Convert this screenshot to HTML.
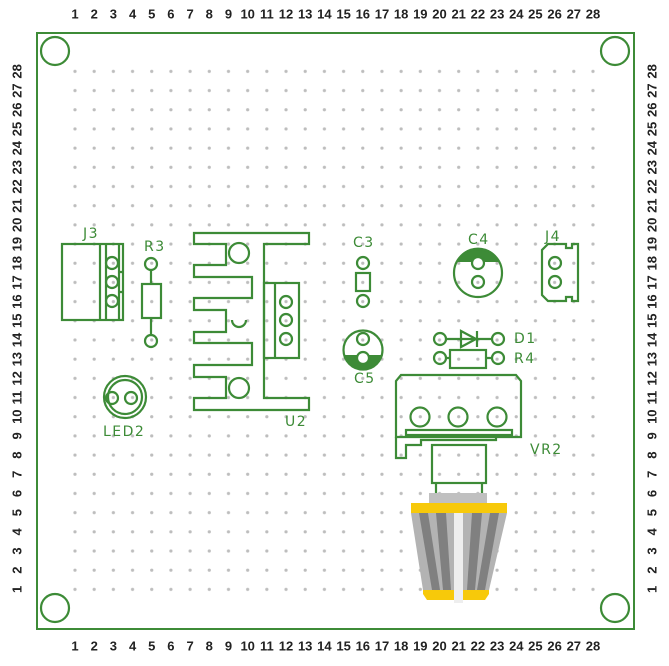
<!DOCTYPE html>
<html><head><meta charset="utf-8"><style>
html,body{margin:0;padding:0;background:#fff;width:669px;height:666px;overflow:hidden}
svg{display:block}
.n{font-family:"Liberation Sans",sans-serif;font-weight:bold;font-size:13px;fill:#222;text-anchor:middle;dominant-baseline:central}
.g{fill:none;stroke:#3d8b37;stroke-width:2.2}
.l{font-family:"DejaVu Sans","Liberation Sans",sans-serif;font-size:14px;fill:#3d8b37;letter-spacing:1.5px}
</style></head><body>
<svg width="669" height="666" viewBox="0 0 669 666" xmlns="http://www.w3.org/2000/svg">
<defs>
<pattern id="d" patternUnits="userSpaceOnUse" x="65.4" y="61.8" width="19.185" height="19.185">
<circle cx="9.59" cy="9.59" r="1.6" fill="#bdbdbd"/></pattern>
</defs>
<rect x="37" y="33" width="597" height="596" fill="#fff" stroke="#3d8b37" stroke-width="2"/>
<rect x="65" y="61" width="540" height="540" fill="url(#d)"/>
<circle class="g" cx="55" cy="51" r="14"/><circle class="g" cx="615" cy="51" r="14"/>
<circle class="g" cx="55" cy="608" r="14"/><circle class="g" cx="615" cy="608" r="14"/>

<g id="top">
<text class="n" x="75" y="14">1</text><text class="n" x="94.2" y="14">2</text><text class="n" x="113.4" y="14">3</text><text class="n" x="132.6" y="14">4</text><text class="n" x="151.7" y="14">5</text><text class="n" x="170.9" y="14">6</text><text class="n" x="190.1" y="14">7</text><text class="n" x="209.3" y="14">8</text><text class="n" x="228.5" y="14">9</text><text class="n" x="247.7" y="14">10</text><text class="n" x="266.9" y="14">11</text><text class="n" x="286" y="14">12</text><text class="n" x="305.2" y="14">13</text><text class="n" x="324.4" y="14">14</text><text class="n" x="343.6" y="14">15</text><text class="n" x="362.8" y="14">16</text><text class="n" x="382" y="14">17</text><text class="n" x="401.1" y="14">18</text><text class="n" x="420.3" y="14">19</text><text class="n" x="439.5" y="14">20</text><text class="n" x="458.7" y="14">21</text><text class="n" x="477.9" y="14">22</text><text class="n" x="497.1" y="14">23</text><text class="n" x="516.3" y="14">24</text><text class="n" x="535.4" y="14">25</text><text class="n" x="554.6" y="14">26</text><text class="n" x="573.8" y="14">27</text><text class="n" x="593" y="14">28</text>
</g>
<g transform="translate(0,632)">
<text class="n" x="75" y="14">1</text><text class="n" x="94.2" y="14">2</text><text class="n" x="113.4" y="14">3</text><text class="n" x="132.6" y="14">4</text><text class="n" x="151.7" y="14">5</text><text class="n" x="170.9" y="14">6</text><text class="n" x="190.1" y="14">7</text><text class="n" x="209.3" y="14">8</text><text class="n" x="228.5" y="14">9</text><text class="n" x="247.7" y="14">10</text><text class="n" x="266.9" y="14">11</text><text class="n" x="286" y="14">12</text><text class="n" x="305.2" y="14">13</text><text class="n" x="324.4" y="14">14</text><text class="n" x="343.6" y="14">15</text><text class="n" x="362.8" y="14">16</text><text class="n" x="382" y="14">17</text><text class="n" x="401.1" y="14">18</text><text class="n" x="420.3" y="14">19</text><text class="n" x="439.5" y="14">20</text><text class="n" x="458.7" y="14">21</text><text class="n" x="477.9" y="14">22</text><text class="n" x="497.1" y="14">23</text><text class="n" x="516.3" y="14">24</text><text class="n" x="535.4" y="14">25</text><text class="n" x="554.6" y="14">26</text><text class="n" x="573.8" y="14">27</text><text class="n" x="593" y="14">28</text>
</g>
<g id="side">
<text class="n" transform="translate(17,589.4) rotate(-90)">1</text><text class="n" transform="translate(17,570.2) rotate(-90)">2</text><text class="n" transform="translate(17,551) rotate(-90)">3</text><text class="n" transform="translate(17,531.9) rotate(-90)">4</text><text class="n" transform="translate(17,512.7) rotate(-90)">5</text><text class="n" transform="translate(17,493.5) rotate(-90)">6</text><text class="n" transform="translate(17,474.3) rotate(-90)">7</text><text class="n" transform="translate(17,455.1) rotate(-90)">8</text><text class="n" transform="translate(17,435.9) rotate(-90)">9</text><text class="n" transform="translate(17,416.7) rotate(-90)">10</text><text class="n" transform="translate(17,397.6) rotate(-90)">11</text><text class="n" transform="translate(17,378.4) rotate(-90)">12</text><text class="n" transform="translate(17,359.2) rotate(-90)">13</text><text class="n" transform="translate(17,340) rotate(-90)">14</text><text class="n" transform="translate(17,320.8) rotate(-90)">15</text><text class="n" transform="translate(17,301.6) rotate(-90)">16</text><text class="n" transform="translate(17,282.5) rotate(-90)">17</text><text class="n" transform="translate(17,263.3) rotate(-90)">18</text><text class="n" transform="translate(17,244.1) rotate(-90)">19</text><text class="n" transform="translate(17,224.9) rotate(-90)">20</text><text class="n" transform="translate(17,205.7) rotate(-90)">21</text><text class="n" transform="translate(17,186.5) rotate(-90)">22</text><text class="n" transform="translate(17,167.3) rotate(-90)">23</text><text class="n" transform="translate(17,148.2) rotate(-90)">24</text><text class="n" transform="translate(17,129) rotate(-90)">25</text><text class="n" transform="translate(17,109.8) rotate(-90)">26</text><text class="n" transform="translate(17,90.6) rotate(-90)">27</text><text class="n" transform="translate(17,71.4) rotate(-90)">28</text>
</g>
<g transform="translate(635,0)">
<text class="n" transform="translate(17,589.4) rotate(-90)">1</text><text class="n" transform="translate(17,570.2) rotate(-90)">2</text><text class="n" transform="translate(17,551) rotate(-90)">3</text><text class="n" transform="translate(17,531.9) rotate(-90)">4</text><text class="n" transform="translate(17,512.7) rotate(-90)">5</text><text class="n" transform="translate(17,493.5) rotate(-90)">6</text><text class="n" transform="translate(17,474.3) rotate(-90)">7</text><text class="n" transform="translate(17,455.1) rotate(-90)">8</text><text class="n" transform="translate(17,435.9) rotate(-90)">9</text><text class="n" transform="translate(17,416.7) rotate(-90)">10</text><text class="n" transform="translate(17,397.6) rotate(-90)">11</text><text class="n" transform="translate(17,378.4) rotate(-90)">12</text><text class="n" transform="translate(17,359.2) rotate(-90)">13</text><text class="n" transform="translate(17,340) rotate(-90)">14</text><text class="n" transform="translate(17,320.8) rotate(-90)">15</text><text class="n" transform="translate(17,301.6) rotate(-90)">16</text><text class="n" transform="translate(17,282.5) rotate(-90)">17</text><text class="n" transform="translate(17,263.3) rotate(-90)">18</text><text class="n" transform="translate(17,244.1) rotate(-90)">19</text><text class="n" transform="translate(17,224.9) rotate(-90)">20</text><text class="n" transform="translate(17,205.7) rotate(-90)">21</text><text class="n" transform="translate(17,186.5) rotate(-90)">22</text><text class="n" transform="translate(17,167.3) rotate(-90)">23</text><text class="n" transform="translate(17,148.2) rotate(-90)">24</text><text class="n" transform="translate(17,129) rotate(-90)">25</text><text class="n" transform="translate(17,109.8) rotate(-90)">26</text><text class="n" transform="translate(17,90.6) rotate(-90)">27</text><text class="n" transform="translate(17,71.4) rotate(-90)">28</text>
</g>

<!-- J3 -->
<text class="l" x="83" y="238">J3</text>
<rect class="g" x="62" y="244" width="61" height="76"/>
<line class="g" x1="100" y1="244" x2="100" y2="320"/>
<path class="g" d="M106 244V320M119 244V320M119 272H123M119 292H123"/>
<circle class="g" cx="112" cy="263" r="6"/><circle class="g" cx="112" cy="282" r="6"/><circle class="g" cx="112" cy="301" r="6"/>
<!-- R3 -->
<text class="l" x="144" y="251">R3</text>
<circle class="g" cx="151" cy="264" r="6"/><circle class="g" cx="151" cy="341" r="6"/>
<rect class="g" x="142" y="284" width="19" height="34"/>
<path class="g" d="M151 270V284M151 318V335"/>
<!-- U2 -->
<path class="g" d="M194 233H309V244H264V398H309V410H194V398H226V377H194V365H252V343H194V332H226V310H194V298H252V277H194V265H226V244H194Z"/>
<circle class="g" cx="239" cy="253" r="10"/><circle class="g" cx="239" cy="388" r="10"/>
<path class="g" d="M232 320A7 7 0 0 0 246 320"/>
<rect class="g" x="264" y="283" width="35" height="75"/>
<line class="g" x1="275" y1="283" x2="275" y2="358"/>
<circle class="g" cx="286" cy="302" r="6"/><circle class="g" cx="286" cy="320" r="6"/><circle class="g" cx="286" cy="339" r="6"/>
<text class="l" x="285" y="426">U2</text>
<!-- LED2 -->
<circle class="g" cx="125" cy="397" r="21"/><circle class="g" cx="125" cy="397" r="17"/>
<circle class="g" cx="112" cy="398" r="6"/><circle class="g" cx="131" cy="398" r="6"/>
<text class="l" x="103" y="436">LED2</text>
<!-- C3 -->
<text class="l" x="353" y="247">C3</text>
<circle class="g" cx="363" cy="263" r="6"/><circle class="g" cx="363" cy="301" r="6"/>
<rect class="g" x="356" y="273" width="14" height="18"/>
<!-- C4 -->
<text class="l" x="468" y="244">C4</text>
<path d="M456 262A24 24 0 0 1 500 262Z" fill="#3d8b37"/>
<circle class="g" cx="478" cy="273" r="24"/>
<circle cx="478" cy="263" r="6" fill="#fff" stroke="#3d8b37" stroke-width="2.2"/><circle class="g" cx="478" cy="282" r="6"/>
<!-- J4 -->
<text class="l" x="545" y="241">J4</text>
<path class="g" d="M548 244H566V248H572V244H578V301H572V297H566V301H548L542 295V250Z"/>
<circle class="g" cx="555" cy="263" r="6"/><circle class="g" cx="555" cy="282" r="6"/>
<!-- C5 -->
<path d="M344 355A19.5 19.5 0 0 0 382 355Z" fill="#3d8b37"/>
<circle class="g" cx="363" cy="350" r="19.5"/>
<circle class="g" cx="363" cy="339" r="6"/><circle cx="363" cy="358" r="6" fill="#fff" stroke="#3d8b37" stroke-width="2.2"/>
<text class="l" x="354" y="383">C5</text>
<!-- D1 -->
<circle class="g" cx="440" cy="339" r="6"/><circle class="g" cx="498" cy="339" r="6"/>
<path class="g" d="M446 339H492M461 331V347L476 339ZM477 331V347"/>
<text class="l" x="514" y="343">D1</text>
<!-- R4 -->
<circle class="g" cx="440" cy="358" r="6"/><circle class="g" cx="498" cy="358" r="6"/>
<rect class="g" x="450" y="350" width="36" height="18"/>
<path class="g" d="M446 358H450M486 358H492"/>
<text class="l" x="514" y="363">R4</text>
<!-- VR2 -->
<path class="g" d="M401 375H516L521 381V437H396V381Z"/>
<path class="g" d="M396 437V458H406V445H421V440H496V437"/>
<rect class="g" x="406" y="430" width="106" height="5"/>
<circle class="g" cx="420" cy="417" r="9.5"/><circle class="g" cx="458" cy="417" r="9.5"/><circle class="g" cx="497" cy="417" r="9.5"/>
<rect class="g" x="432" y="445" width="54" height="38"/>
<path class="g" d="M436 483V493M482 483V493"/>
<text class="l" x="530" y="454">VR2</text>
<rect x="429" y="493" width="58" height="10" fill="#c0c0c0"/>
<rect x="411" y="503" width="96" height="10" fill="#f7c90a"/>
<path d="M411 513H507L489 590H423Z" fill="#b3b3b3"/>
<path d="M419 513H428L440 590H432Z" fill="#808080"/>
<path d="M436 513H446L451 590H443Z" fill="#808080"/>
<path d="M472 513H482L475 590H467Z" fill="#808080"/>
<path d="M490 513H499L485 590H477Z" fill="#808080"/>
<path d="M423 590H454V600H427L423 594Z" fill="#f7c90a"/>
<path d="M463 590H489V594L485 600H463Z" fill="#f7c90a"/>
<rect x="454" y="513" width="9" height="90" fill="#eeeeee"/>
</svg>
</body></html>
